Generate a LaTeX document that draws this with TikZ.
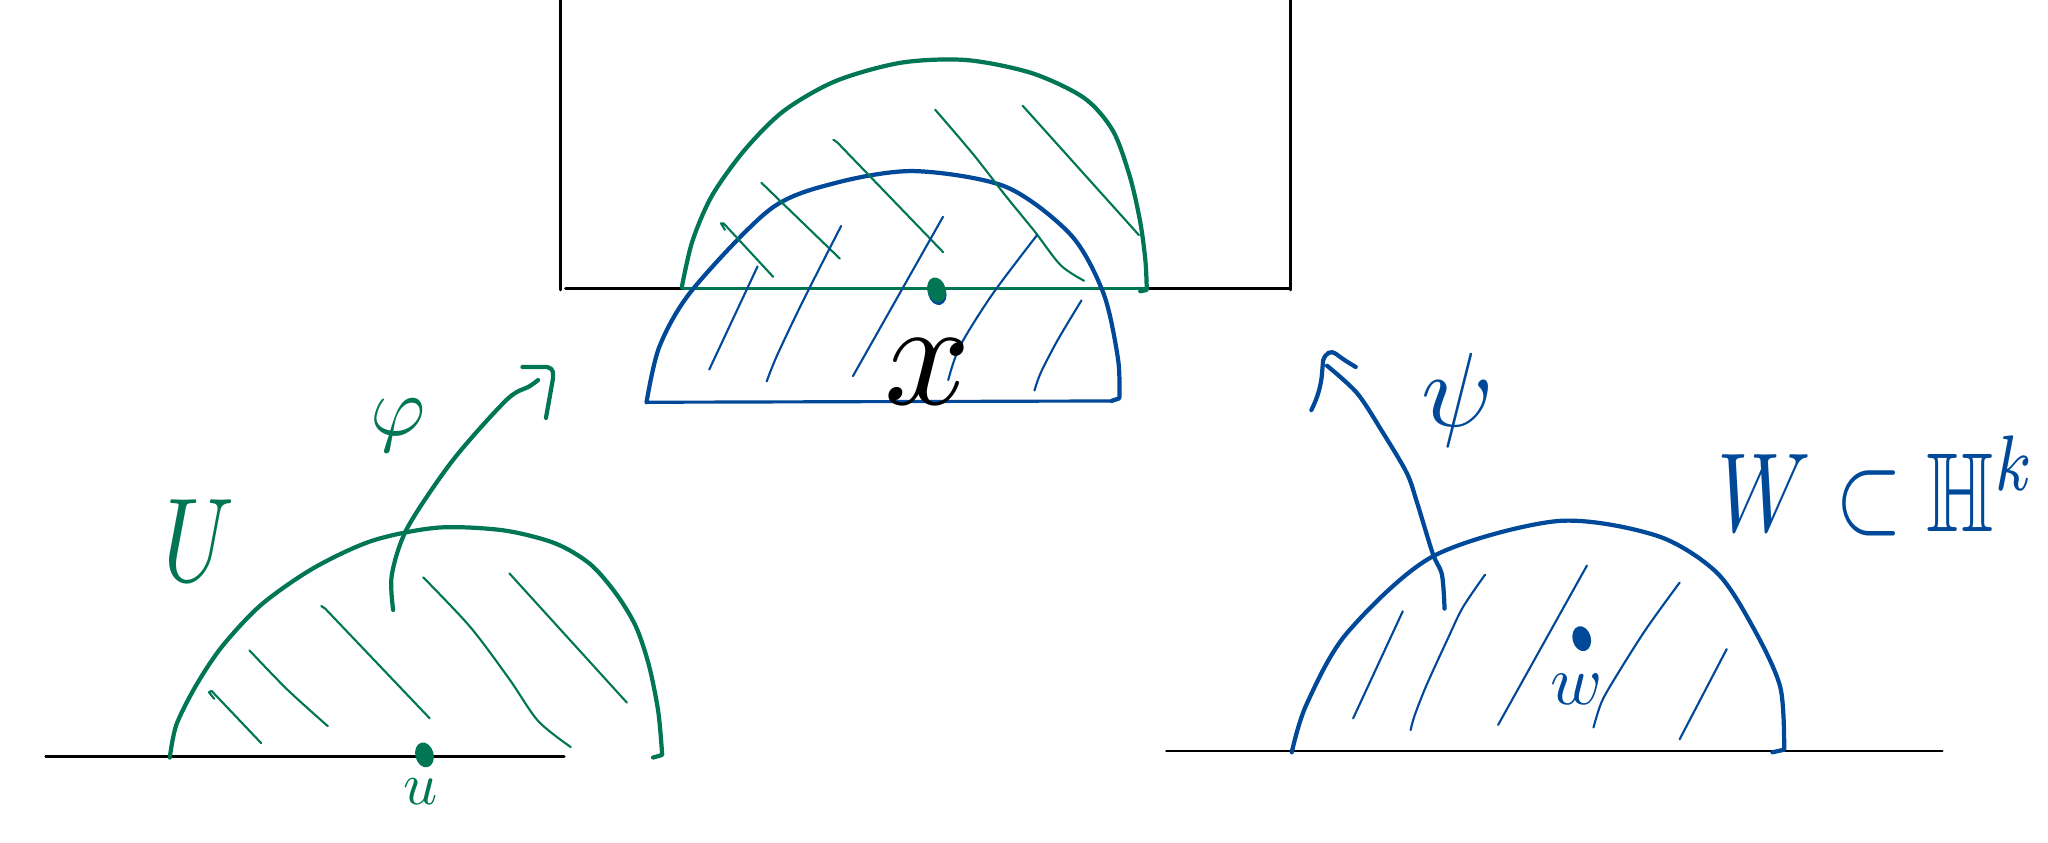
\documentclass[tikz,border=0pt]{standalone}
\usepackage{amssymb}
\usetikzlibrary{shapes.geometric}
\definecolor{hgreen}{RGB}{0,118,84}
\definecolor{hblue}{RGB}{0,72,152}
\begin{document}
\begin{tikzpicture}[x=0.01306cm,y=-0.01306cm,
  arcline/.style={line width=1.2pt,line cap=round,line join=round},
  hatch/.style={line width=0.6pt,line cap=round,line join=round},
  baseline/.style={line width=0.8pt,line cap=round},
  dotmark/.style={ellipse,inner sep=0pt,minimum width=5.2pt,minimum height=7.2pt,rotate=15},
  lbl/.style={inner sep=0pt}]
\useasboundingbox (0,0) rectangle (1568,645);

% ---------- top box ----------
\draw[baseline] (429,0) -- (429,222);
\draw[baseline] (988,0) -- (988,222);
\draw[baseline] (433,221) -- (988,221);
\draw[hgreen,line width=0.9pt] (522,221) -- (880,221);

% green arc (top)
\draw[hgreen,arcline] plot[smooth] coordinates {(522,220)(530,185)(545,150)(570,115)(600,85)(640,62)(690,48)(740,46)(790,56)(830,75)(852,100)(865,135)(873,170)(877,200)(878,222)} -- (873,223);
% blue arc (top)
\draw[hblue,arcline] plot[smooth] coordinates {(495,308)(505,265)(530,222)(590,160)(640,140)(700,131)(770,143)(820,180)(845,225)(856,275)(857,305)} -- (851,307);
\draw[hblue,line width=0.9pt] (495,308) -- (850,307);

% green hatches (top)
\draw[hgreen,hatch] (555,176) -- (552,171) -- (554,171) -- (592,212);
\draw[hgreen,hatch] (583,140) -- (643,198);
\draw[hgreen,hatch] (638,107) -- (641,109) -- (722,193);
\draw[hgreen,hatch] plot[smooth] coordinates {(716,84)(745,118)(770,150)(792,177)(812,203)(830,215)};
\draw[hgreen,hatch] (783,81) -- (872,180);

% blue hatches (top)
\draw[hblue,hatch] (580,204) -- (543,283);
\draw[hblue,hatch] plot[smooth] coordinates {(644,173)(615,230)(595,272)(587,292)};
\draw[hblue,hatch] (722,166) -- (653,288);
\draw[hblue,hatch] plot[smooth] coordinates {(794,180)(760,225)(735,265)(726,291)};
\draw[hblue,hatch] plot[smooth] coordinates {(828,230)(810,260)(797,285)(792,299)};

\node[dotmark,fill=hblue] at (717.5,224) {};
\node[dotmark,fill=hgreen] (x0) at (717,222) {};
\node[lbl,scale=4.3] (xl) at (710,285) {$x$};

% ---------- bottom left ----------
\draw[baseline] (35,579) -- (432,579);
\draw[hgreen,arcline] plot[smooth] coordinates {(130,580)(135,555)(150,525)(170,495)(200,463)(240,435)(285,414)(335,404)(385,406)(425,416)(452,432)(472,455)(487,480)(497,510)(504,545)(507,578)} -- (500,580);
\draw[hgreen,hatch] (164,535) -- (160,530) -- (162,529) -- (200,569);
\draw[hgreen,hatch] plot[smooth] coordinates {(191,498)(220,528)(251,556)};
\draw[hgreen,hatch] (246,464) -- (249,466) -- (329,550);
\draw[hgreen,hatch] plot[smooth] coordinates {(324,442)(360,480)(390,520)(412,552)(437,572)};
\draw[hgreen,hatch] (390,439) -- (480,538);
\node[dotmark,fill=hgreen] (u0) at (325,578) {};
\node[lbl,hgreen,scale=1.7] (ul) at (322,606) {$u$};
\node[lbl,hgreen,xscale=2.55,yscale=3.4] (Ul) at (152,414) {$U$};

% phi arrow
\coordinate (phis) at (301,467);
\coordinate (phie) at (412,291);
\draw[hgreen,arcline] plot[smooth] coordinates {(phis)(300,440)(312,404)(347,352)(388,306)(405,296)(phie)};
\draw[hgreen,arcline] (400,281) -- (419,281) .. controls (424,282) and (424,286) .. (423,292) -- (418,320);
\node[lbl,hgreen,scale=2.4] (phil) at (305,326) {$\varphi$};

% ---------- bottom right ----------
\draw[baseline] (893,575) -- (1487,575);
\draw[hblue,arcline] plot[smooth] coordinates {(989,576)(1000,540)(1031,485)(1097,426)(1192,399)(1268,410)(1314,438)(1342,480)(1363,526)(1366,574)} -- (1357,576);
\draw[hblue,hatch] (1074,468) -- (1036,550);
\draw[hblue,hatch] plot[smooth] coordinates {(1137,440)(1120,465)(1108,490)(1092,525)(1083,548)(1080,559)};
\draw[hblue,hatch] (1215,433) -- (1147,555);
\draw[hblue,hatch] plot[smooth] coordinates {(1286,446)(1260,482)(1236,520)(1226,538)(1220,557)};
\draw[hblue,hatch] (1322,497) -- (1286,566);
\node[dotmark,fill=hblue] (w0) at (1211,489) {};
\node[lbl,hblue,scale=2.0] (wl) at (1207,528) {$w$};

% psi arrow
\coordinate (psis) at (1106,466);
\coordinate (psie) at (1016,280);
\draw[hblue,arcline] plot[smooth] coordinates {(psis)(1104,440)(1097,424)(1085,385)(1077,362)(1058,330)(1039,301)(psie)};
\draw[hblue,arcline] (1004,314) .. controls (1009,304) and (1011,296) .. (1012,288) -- (1013,276) .. controls (1015,270) and (1019,268) .. (1023,271) .. controls (1028,275) and (1033,278) .. (1038,281);
\node[lbl,hblue,scale=3.0] (psil) at (1116,306) {$\psi$};

\node[lbl,hblue,anchor=west,xscale=2.46,yscale=3.2] (Wl) at (1314,372) {$W \subset \mathbb{H}^k$};
\end{tikzpicture}
\end{document}
